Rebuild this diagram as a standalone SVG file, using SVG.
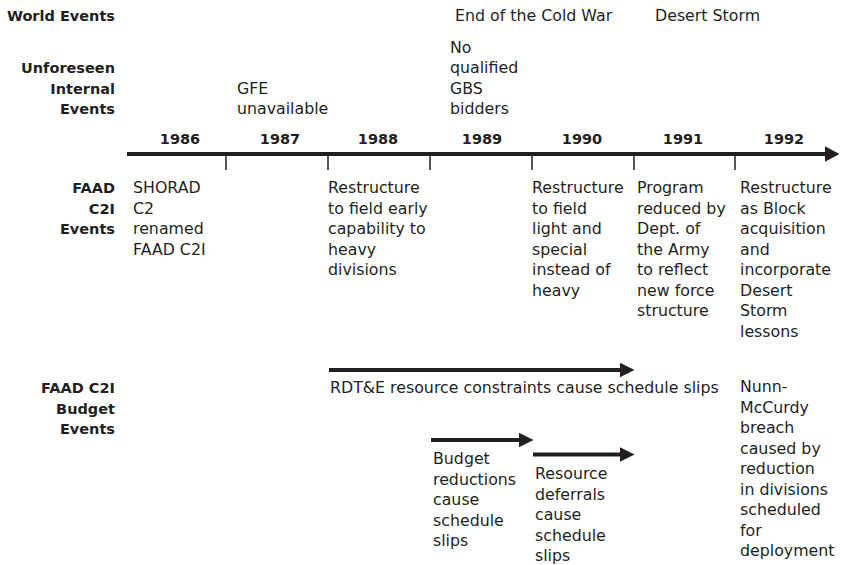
<svg xmlns="http://www.w3.org/2000/svg" width="842" height="565" viewBox="0 0 842 565">
<style>
text{font-family:"DejaVu Sans","Liberation Sans",sans-serif;fill:#231f20;font-size:15.8px}
.b{font-weight:bold;font-size:14.5px}
.lbl{text-anchor:end}
.yr{text-anchor:middle}
.ax{stroke:#231f20;stroke-width:4;fill:none}
.tk{stroke:#231f20;stroke-width:1.5}
</style>
<defs>
<marker id="ah" viewBox="0 0 15 15" refX="0.5" refY="7.5" markerWidth="15" markerHeight="15" markerUnits="userSpaceOnUse" orient="auto">
<path d="M0,0 L15,7.5 L0,15 z" fill="#231f20"/>
</marker>
<marker id="ahm" viewBox="0 0 15 16" refX="0.5" refY="8" markerWidth="15" markerHeight="16" markerUnits="userSpaceOnUse" orient="auto">
<path d="M0,0 L15,8 L0,16 z" fill="#231f20"/>
</marker>
</defs>
<g id="row-labels">
<text class="b lbl" x="115" y="20.5">World Events</text>
<text class="b lbl" x="115" y="73">Unforeseen</text>
<text class="b lbl" x="115" y="93.5">Internal</text>
<text class="b lbl" x="115" y="114">Events</text>
<text class="b lbl" x="115" y="193">FAAD</text>
<text class="b lbl" x="115" y="213.5">C2I</text>
<text class="b lbl" x="115" y="234">Events</text>
<text class="b lbl" x="115" y="393">FAAD C2I</text>
<text class="b lbl" x="115" y="413.5">Budget</text>
<text class="b lbl" x="115" y="434">Events</text>
</g>
<g id="connectors">
<line class="ax" x1="127" y1="154" x2="825" y2="154" marker-end="url(#ahm)"/>
<line class="tk" x1="226" y1="155" x2="226" y2="170"/>
<line class="tk" x1="328" y1="155" x2="328" y2="170"/>
<line class="tk" x1="430" y1="155" x2="430" y2="170"/>
<line class="tk" x1="532" y1="155" x2="532" y2="170"/>
<line class="tk" x1="634" y1="155" x2="634" y2="170"/>
<line class="tk" x1="735" y1="155" x2="735" y2="170"/>
<line class="ax" x1="329" y1="370" x2="620" y2="370" marker-end="url(#ah)"/>
<line class="ax" x1="431" y1="440" x2="519" y2="440" marker-end="url(#ah)"/>
<line class="ax" x1="533" y1="454.5" x2="620" y2="454.5" marker-end="url(#ah)"/>
</g>
<g id="years">
<text class="b yr" x="180" y="144">1986</text>
<text class="b yr" x="280" y="144">1987</text>
<text class="b yr" x="378" y="144">1988</text>
<text class="b yr" x="482" y="144">1989</text>
<text class="b yr" x="582" y="144">1990</text>
<text class="b yr" x="683" y="144">1991</text>
<text class="b yr" x="784" y="144">1992</text>
</g>
<g id="world-events">
<text x="455" y="21">End of the Cold War</text>
<text x="655" y="21">Desert Storm</text>
</g>
<g id="internal-gfe">
<text x="237" y="93.5">GFE</text>
<text x="237" y="114">unavailable</text>
</g>
<g id="internal-gbs">
<text x="450" y="52.5">No</text>
<text x="450" y="73">qualified</text>
<text x="450" y="93.5">GBS</text>
<text x="450" y="114">bidders</text>
</g>
<g id="ev-1986">
<text x="133" y="193">SHORAD</text>
<text x="133" y="213.5">C2</text>
<text x="133" y="234">renamed</text>
<text x="133" y="254.5">FAAD C2I</text>
</g>
<g id="ev-1988">
<text x="328" y="193">Restructure</text>
<text x="328" y="213.5">to field early</text>
<text x="328" y="234">capability to</text>
<text x="328" y="254.5">heavy</text>
<text x="328" y="275">divisions</text>
</g>
<g id="ev-1990">
<text x="532" y="193">Restructure</text>
<text x="532" y="213.5">to field</text>
<text x="532" y="234">light and</text>
<text x="532" y="254.5">special</text>
<text x="532" y="275">instead of</text>
<text x="532" y="295.5">heavy</text>
</g>
<g id="ev-1991">
<text x="637" y="193">Program</text>
<text x="637" y="213.5">reduced by</text>
<text x="637" y="234">Dept. of</text>
<text x="637" y="254.5">the Army</text>
<text x="637" y="275">to reflect</text>
<text x="637" y="295.5">new force</text>
<text x="637" y="316">structure</text>
</g>
<g id="ev-1992">
<text x="740" y="193">Restructure</text>
<text x="740" y="213.5">as Block</text>
<text x="740" y="234">acquisition</text>
<text x="740" y="254.5">and</text>
<text x="740" y="275">incorporate</text>
<text x="740" y="295.5">Desert</text>
<text x="740" y="316">Storm</text>
<text x="740" y="336.5">lessons</text>
</g>
<g id="budget-rdte">
<text x="330" y="393">RDT&amp;E resource constraints cause schedule slips</text>
</g>
<g id="budget-reductions">
<text x="433" y="464">Budget</text>
<text x="433" y="484.5">reductions</text>
<text x="433" y="505">cause</text>
<text x="433" y="525.5">schedule</text>
<text x="433" y="546">slips</text>
</g>
<g id="budget-deferrals">
<text x="535" y="479">Resource</text>
<text x="535" y="499.5">deferrals</text>
<text x="535" y="520">cause</text>
<text x="535" y="540.5">schedule</text>
<text x="535" y="561">slips</text>
</g>
<g id="budget-nunn">
<text x="740" y="392">Nunn-</text>
<text x="740" y="412.5">McCurdy</text>
<text x="740" y="433">breach</text>
<text x="740" y="453.5">caused by</text>
<text x="740" y="474">reduction</text>
<text x="740" y="494.5">in divisions</text>
<text x="740" y="515">scheduled</text>
<text x="740" y="535.5">for</text>
<text x="740" y="556">deployment</text>
</g>
</svg>
